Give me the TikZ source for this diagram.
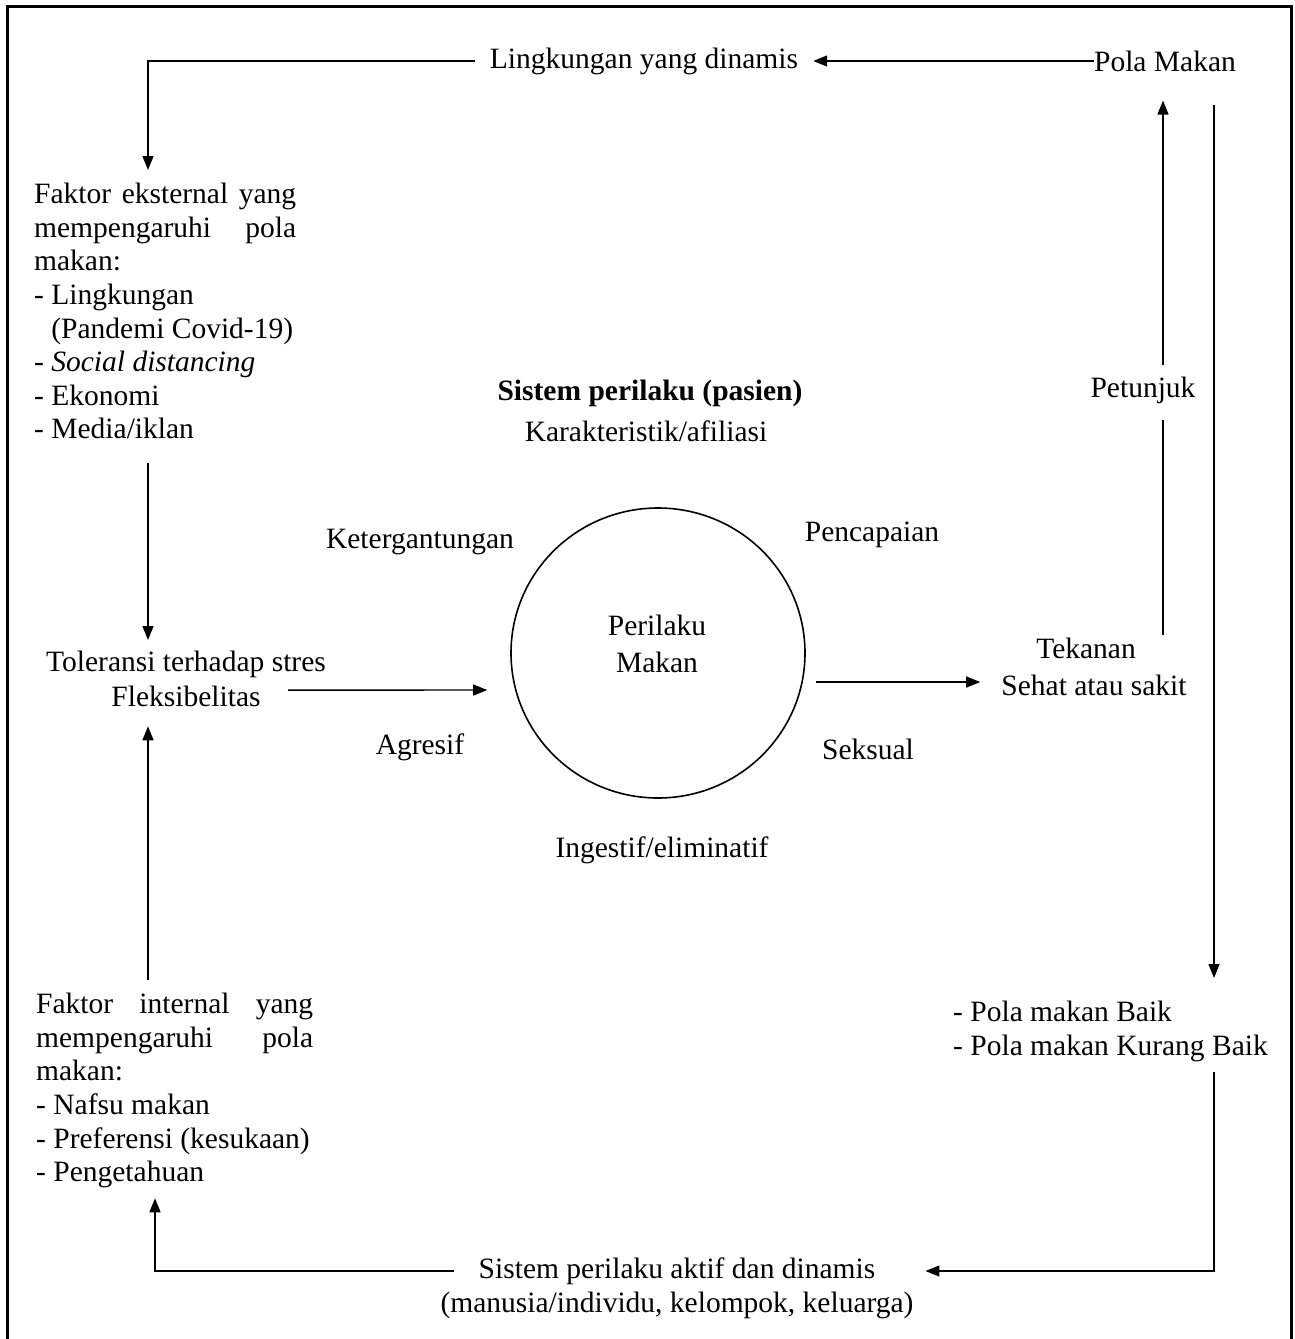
\documentclass[tikz,border=0pt]{standalone}
\usepackage{fontspec}
\setmainfont{Liberation Serif}
\usetikzlibrary{arrows.meta,shapes.geometric}
\newcommand\myfs{\fontsize{29.5}{33.6}\selectfont}
\begin{document}
\begin{tikzpicture}[x=1pt,y=-1pt,
  txt/.style={inner sep=0pt,font=\myfs},
  ln/.style={line width=1.4pt},
  arr/.style={ln,-{Triangle[length=14pt,width=11pt]}}]
\useasboundingbox (0,0) rectangle (1295,1339);
% frame
\draw[line width=3pt] (7,1350) -- (7,6) -- (1291,6) -- (1291,1350);
% helper columns
\coordinate (lc) at (148,0);
\coordinate (lc2) at (155,0);
\coordinate (rc1) at (1163,0);
\coordinate (rc2) at (1214,0);
% nodes
\node[txt] (lyd) at (644,61) {Lingkungan yang dinamis};
\node[txt] (pm) at (1165,61) {Pola Makan};
\node[txt,align=left,anchor=north west] (ext) at (34,183) {%
\makebox[262pt][s]{Faktor eksternal yang}\\
\makebox[262pt][s]{mempengaruhi pola}\\
makan:\\
- Lingkungan\\
\hphantom{- }(Pandemi Covid-19)\\
- \textit{Social distancing}\\
- Ekonomi\\
- Media/iklan};
\node[txt,align=center,anchor=north] (tol) at (186,651) {Toleransi terhadap stres\\[1.5pt]Fleksibelitas};
\node[txt,align=left,anchor=north west] (int) at (36,993) {%
\makebox[277pt][s]{Faktor internal yang}\\
\makebox[277pt][s]{mempengaruhi pola}\\
makan:\\
- Nafsu makan\\
- Preferensi (kesukaan)\\
- Pengetahuan};
\node[draw,ellipse,line width=1.6pt,minimum width=294pt,minimum height=290pt,inner sep=0pt] (circ) at (658,653) {};
\node[txt,align=center] (pmk) at (657,644) {Perilaku\\[3pt]Makan};
\node[txt,font=\myfs\bfseries] (sp) at (650,393) {Sistem perilaku (pasien)};
\node[txt] (kar) at (646,431) {Karakteristik/afiliasi};
\node[txt] (ket) at (420,542) {Ketergantungan};
\node[txt] (pen) at (872,535) {Pencapaian};
\node[txt] (agr) at (420,747) {Agresif};
\node[txt] (sek) at (868,749) {Seksual};
\node[txt] (ing) at (662,850) {Ingestif/eliminatif};
\node[txt] (tek) at (1086,648) {Tekanan};
\node[txt] (seh) at (1094,685) {Sehat atau sakit};
\node[txt] (pet) at (1143,390) {Petunjuk};
\node[txt,align=left,anchor=north west] (baik) at (953,1001) {- Pola makan Baik\\- Pola makan Kurang Baik};
\node[txt] (sis) at (677,1271) {Sistem perilaku aktif dan dinamis};
\node[txt] (man) at (677,1305) {(manusia/individu, kelompok, keluarga)};
% connectors
\draw[arr] (pm.west) -- ([xshift=15pt]lyd.east);
\draw[arr,shorten >=13pt] ([xshift=-15pt]lyd.west) -| (ext.north -| lc);
\draw[arr,shorten <=24pt,shorten >=11pt] (ext.south -| lc) -- (tol.north -| lc);
\draw[arr,shorten <=13pt,shorten >=19pt] (int.north -| lc) -- (tol.south -| lc);
\draw[arr] ([xshift=-38pt,yshift=-11pt]tol.east) -- ([xshift=-23pt,yshift=-37pt]circ.west);
\draw[arr] ([xshift=10pt,yshift=-29pt]circ.east) -- ([xshift=-21pt,yshift=3pt]seh.west);
\draw[ln,shorten <=2pt,shorten >=16pt] (tek.north -| rc1) -- (pet.south -| rc1);
\draw[arr,shorten <=11pt,shorten >=29pt] (pet.north -| rc1) -- (pm.south -| rc1);
\draw[arr,shorten <=33pt,shorten >=23pt] (pm.south -| rc2) -- (baik.north -| rc2);
\draw[arr,shorten <=10pt,shorten >=50pt] (baik.south -| rc2) |- (sis.east);
\draw[arr,shorten >=10pt] ([xshift=-25pt]sis.west) -| (int.south -| lc2);
\end{tikzpicture}
\end{document}
